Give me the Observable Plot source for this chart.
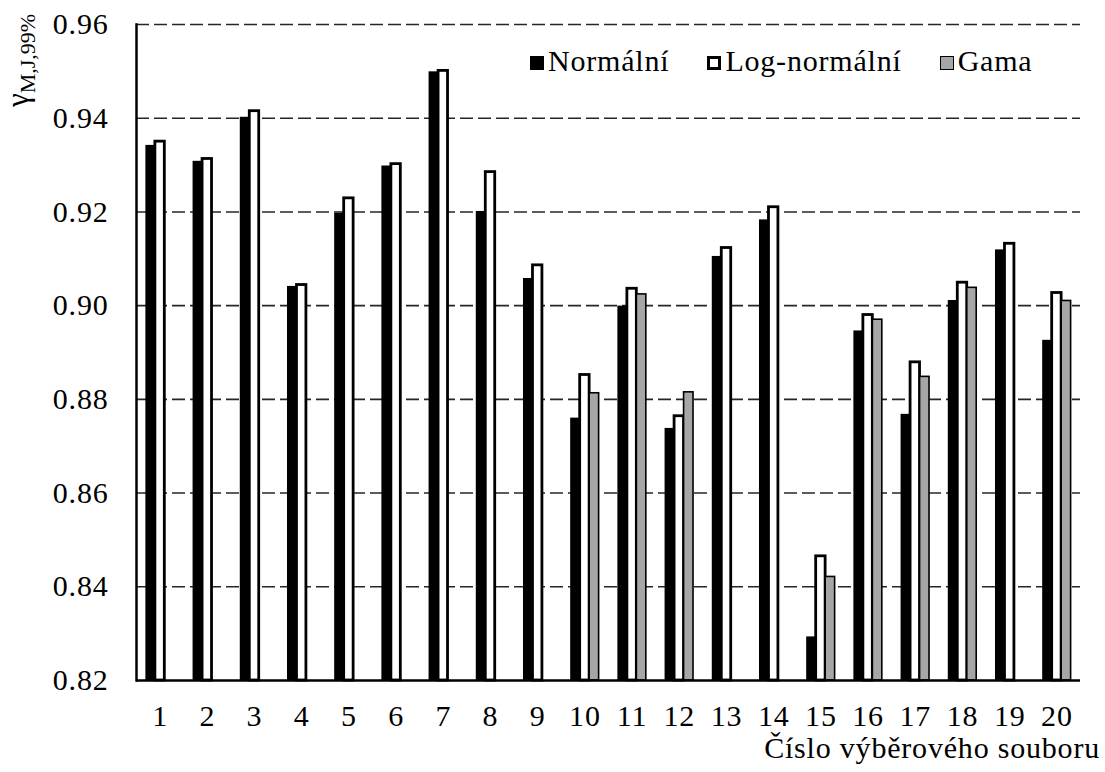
<!DOCTYPE html>
<html>
<head>
<meta charset="utf-8">
<script src="https://cdn.jsdelivr.net/npm/d3@7"></script>
<script src="https://cdn.jsdelivr.net/npm/@observablehq/plot@0.6"></script>
<style>
  body { margin: 0; background: #fff; }
  #wrap { position: relative; width: 1105px; height: 772px; font-family: 'Liberation Serif', serif; }
  #legend { position: absolute; left: 530px; top: 44px; display: flex; align-items: center; font-size: 30px; letter-spacing: 0.8px; color: #000; font-family: 'Liberation Serif', serif; line-height: 1.1; }
  #legend .item { display: flex; align-items: center; margin-right: 38px; }
  #legend .sw { width: 14px; height: 14px; box-sizing: border-box; margin-right: 4px; margin-top: 4px; border: 3px solid #000; }
  #xtitle { position: absolute; right: 5px; top: 731px; font-size: 30px; letter-spacing: 0.8px; white-space: nowrap; font-family: 'Liberation Serif', serif; line-height: 1.1; }
</style>
</head>
<body>
<div id="wrap">
  <div id="chart"></div>
  <div id="legend"></div>
  <div id="xtitle"></div>
</div>
<script>
const groups = ["1","2","3","4","5","6","7","8","9","10","11","12","13","14","15","16","17","18","19","20"];
const seriesNames = ["Normální", "Log-normální", "Gama"];
const normal = [0.9342,0.9308,0.9402,0.9041,0.9197,0.9298,0.9499,0.9201,0.9058,0.8760,0.8999,0.8738,0.9105,0.9183,0.8293,0.8946,0.8768,0.9011,0.9119,0.8926];
const logNormal = [0.9350,0.9313,0.9415,0.9044,0.9229,0.9302,0.9501,0.9285,0.9086,0.8852,0.9036,0.8764,0.9123,0.9210,0.8465,0.8980,0.8879,0.9049,0.9132,0.9027];
const gama = [null,null,null,null,null,null,null,null,null,0.8813,0.9024,0.8815,null,null,0.8421,0.8970,0.8848,0.9038,null,0.9010];
const yTicks = [0.82,0.84,0.86,0.88,0.90,0.92,0.94,0.96];
const yLabelMain = "γ";
const yLabelSub = "M,J,99%";
const xTitle = "Číslo výběrového souboru";

const rows = (vals) => groups.map((g, i) => ({group: g, value: vals[i]})).filter(d => d.value != null);

const font = "'Liberation Serif', serif";

const chart = Plot.plot({
  width: 1105,
  height: 772,
  marginLeft: 136,
  marginRight: 25,
  marginTop: 24,
  marginBottom: 92,
  style: {fontFamily: font, fontSize: "30px", letterSpacing: "0.8px", color: "#000", background: "#fff"},
  x: {domain: groups, paddingInner: 0.8, paddingOuter: 0.4, round: false, axis: null},
  y: {domain: [0.82, 0.96], axis: null},
  marks: [
    Plot.gridY(yTicks.filter(t => t > 0.82), {stroke: "#000", strokeOpacity: 0.85, strokeWidth: 1.6, strokeDasharray: "13,5"}),
    Plot.barY(rows(normal), {x: "group", y1: 0.82, y2: "value", fill: "#000", dx: -9.5}),
    Plot.barY(rows(logNormal), {x: "group", y1: 0.82, y2: "value", fill: "#fff", stroke: "#000", strokeWidth: 2.8}),
    Plot.barY(rows(gama), {x: "group", y1: 0.82, y2: "value", fill: "#a6a6a6", stroke: "#000", strokeWidth: 1.6, dx: 9.5}),
    Plot.ruleY([0.82], {stroke: "#000", strokeWidth: 2.5}),
    Plot.frame({anchor: "left", stroke: "#000", strokeWidth: 2.5}),
    Plot.axisY(yTicks, {tickSize: 0, tickPadding: 28, tickFormat: d3.format(".2f"), label: null, fontSize: 30}),
    Plot.axisX({tickSize: 0, tickPadding: 24, label: null, fontSize: 30})
  ]
});
d3.select(chart).attr("font-family", font);
d3.select(chart).selectAll("text").attr("font-family", font);

// rotated y label with subscript
const yl = d3.select(chart).append("text")
  .attr("transform", "translate(28,107) rotate(-90)")
  .attr("text-anchor", "start")
  .attr("font-family", font)
  .attr("fill", "#000")
  .attr("font-size", 31)
  .style("letter-spacing", "0px");
yl.append("tspan").text(yLabelMain);
yl.append("tspan").attr("font-size", 22).attr("dy", 7).text(yLabelSub);

document.getElementById("chart").appendChild(chart);

const fills = ["#000", "#fff", "#a6a6a6"];
const legend = document.getElementById("legend");
seriesNames.forEach((name, i) => {
  const item = document.createElement("div");
  item.className = "item";
  const sw = document.createElement("div");
  sw.className = "sw";
  sw.style.background = fills[i];
  if (i === 2) sw.style.borderWidth = "1.5px";
  const t = document.createElement("span");
  t.textContent = name;
  item.appendChild(sw);
  item.appendChild(t);
  if (i === seriesNames.length - 1) item.style.marginRight = "0";
  legend.appendChild(item);
});
document.getElementById("xtitle").textContent = xTitle;
</script>
</body>
</html>
